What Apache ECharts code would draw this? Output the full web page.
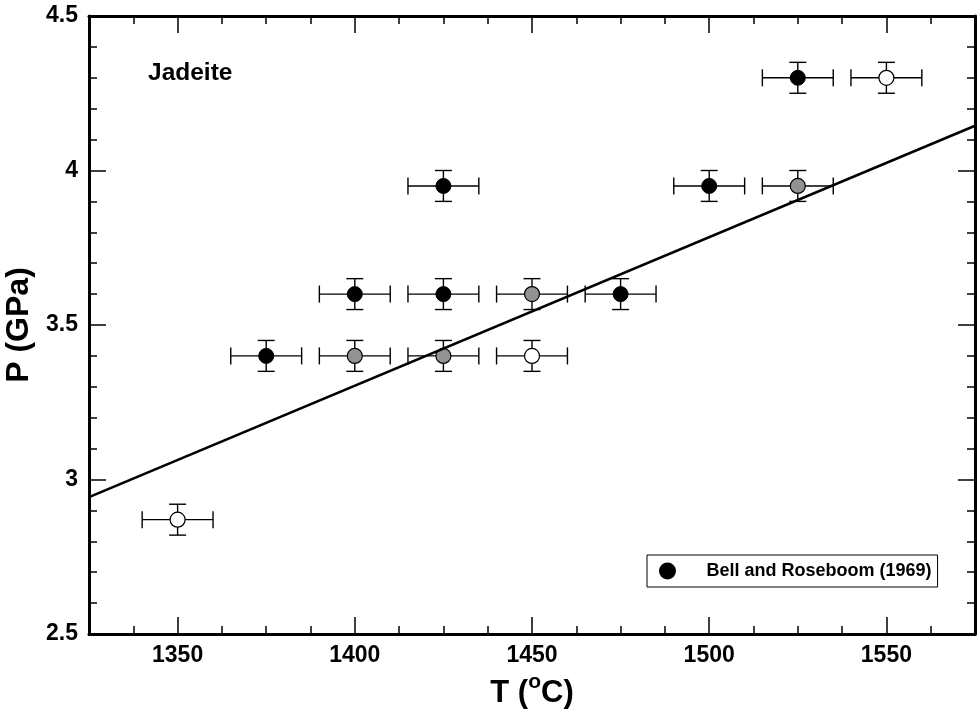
<!DOCTYPE html>
<html>
<head>
<meta charset="utf-8">
<title>Jadeite</title>
<script src="https://cdn.jsdelivr.net/npm/echarts@6/dist/echarts.min.js"></script>
<style>
  html, body { margin: 0; padding: 0; background: #fff; }
  #chart { width: 977px; height: 709px; }
</style>
</head>
<body>
<div id="chart"></div>
<script>
// Experimental run conditions (T in deg C, P in GPa)
const filledT = [1375, 1400, 1425, 1425, 1475, 1500, 1525];
const filledP = [3.40, 3.60, 3.95, 3.60, 3.60, 3.95, 4.30];
const grayT = [1400, 1425, 1450, 1525];
const grayP = [3.40, 3.40, 3.60, 3.95];
const openT = [1350, 1450, 1550];
const openP = [2.87, 3.40, 4.30];

// Uncertainties applied to every run
const errT = 10;
const errP = 0.05;

// Fitted boundary, end points across the T range
const fitT = [1325, 1575];
const fitP = [2.943, 4.145];

// Axis ranges and labelled ticks
const xRange = [1325, 1575];
const yRange = [2.5, 4.5];
const xTickLabels = [1350, 1400, 1450, 1500, 1550];
const yTickLabels = [2.5, 3, 3.5, 4, 4.5];

const legendName = 'Bell and Roseboom (1969)';
const panelLabel = 'Jadeite';

const FONT = '"Liberation Sans", Arial, Helvetica, sans-serif';

const zip = (a, b) => a.map((v, i) => [v, b[i]]);
const allT = filledT.concat(grayT, openT);
const allP = filledP.concat(grayP, openP);
const errRows = allT.map((t, i) => [t, allP[i], errT, errP]);

function errorBars(params, api) {
  const t = api.value(0), p = api.value(1), dt = api.value(2), dp = api.value(3);
  const L = api.coord([t - dt, p]);
  const R = api.coord([t + dt, p]);
  const B = api.coord([t, p - dp]);
  const T = api.coord([t, p + dp]);
  const cap = 8.5;
  const style = { stroke: '#000', lineWidth: 1.4, fill: null };
  const seg = (x1, y1, x2, y2) => ({ type: 'line', shape: { x1, y1, x2, y2 }, style });
  return {
    type: 'group',
    children: [
      seg(L[0], L[1], R[0], R[1]),
      seg(L[0], L[1] - cap, L[0], L[1] + cap),
      seg(R[0], R[1] - cap, R[0], R[1] + cap),
      seg(B[0], B[1], T[0], T[1]),
      seg(B[0] - cap, B[1], B[0] + cap, B[1]),
      seg(T[0] - cap, T[1], T[0] + cap, T[1])
    ]
  };
}

const plotBox = { left: 89, right: 2, top: 16, bottom: 75, containLabel: false, outerBoundsMode: 'none' };
const tickStyle = { color: '#000', width: 1.5 };
const frameLine = { show: true, lineStyle: { color: '#000', width: 3 } };

const baseX = {
  type: 'value', min: xRange[0], max: xRange[1], interval: 12.5,
  splitLine: { show: false }
};

// labelled / major x ticks
function majorX(position, extra) {
  return Object.assign({}, baseX, {
    gridIndex: 0, position,
    axisLine: frameLine,
    axisTick: { show: true, inside: true, length: 17, customValues: xTickLabels, lineStyle: tickStyle },
    axisLabel: { show: false }
  }, extra || {});
}
// minor x ticks every 12.5 degrees, on an overlaid grid
function minorX(position) {
  return Object.assign({}, baseX, {
    gridIndex: 1, position,
    axisLine: { show: false },
    axisTick: { show: true, inside: true, length: 8, lineStyle: tickStyle },
    axisLabel: { show: false }
  });
}

const option = {
  animation: false,
  backgroundColor: '#fff',
  grid: [Object.assign({}, plotBox), Object.assign({}, plotBox)],
  title: {
    text: panelLabel, left: 148, top: 61, padding: 0,
    textStyle: { fontFamily: FONT, fontWeight: 'bold', fontSize: 24.5, color: '#000' }
  },
  legend: {
    data: [legendName],
    left: 647, top: 555,
    padding: [7, 6, 7, 12],
    itemWidth: 26, itemHeight: 15,
    borderColor: '#000', borderWidth: 1,
    backgroundColor: '#fff',
    icon: 'circle',
    textStyle: { fontFamily: FONT, fontWeight: 'bold', fontSize: 18, color: '#000', padding: [0, 0, 0, 21] }
  },
  xAxis: [
    majorX('bottom', {
      name: 'T ({s|o}C)', nameLocation: 'middle', nameGap: 32,
      nameTextStyle: {
        fontFamily: FONT, fontWeight: 'bold', fontSize: 31, color: '#000', lineHeight: 44,
        rich: { s: { fontFamily: FONT, fontWeight: 'bold', fontSize: 21, color: '#000', verticalAlign: 'top', lineHeight: 6 } }
      },
      axisLabel: {
        show: true, customValues: xTickLabels, margin: 10,
        formatter: v => String(v),
        fontFamily: FONT, fontWeight: 'bold', fontSize: 23, color: '#000'
      }
    }),
    majorX('top'),
    minorX('bottom'),
    minorX('top')
  ],
  yAxis: [
    {
      gridIndex: 0, type: 'value', min: yRange[0], max: yRange[1], interval: 0.5, position: 'left',
      name: 'P (GPa)', nameLocation: 'middle', nameRotate: 90, nameGap: 50,
      nameTextStyle: { fontFamily: FONT, fontWeight: 'bold', fontSize: 32, color: '#000' },
      splitLine: { show: false },
      axisLine: frameLine,
      axisTick: { show: true, inside: true, length: 17, customValues: yTickLabels, lineStyle: tickStyle },
      minorTick: { show: true, splitNumber: 5, length: 8, lineStyle: tickStyle },
      axisLabel: {
        show: true, customValues: yTickLabels, margin: 11,
        formatter: v => String(v),
        fontFamily: FONT, fontWeight: 'bold', fontSize: 23, color: '#000'
      }
    },
    {
      gridIndex: 0, type: 'value', min: yRange[0], max: yRange[1], interval: 0.5, position: 'right',
      splitLine: { show: false },
      axisLine: frameLine,
      axisTick: { show: true, inside: true, length: 17, lineStyle: tickStyle },
      minorTick: { show: true, splitNumber: 5, length: 8, lineStyle: tickStyle },
      axisLabel: { show: false }
    },
    {
      gridIndex: 1, type: 'value', min: yRange[0], max: yRange[1], interval: 0.5, show: false
    }
  ],
  series: [
    {
      name: 'error bars', type: 'custom', xAxisIndex: 0, yAxisIndex: 0,
      renderItem: errorBars, data: errRows, encode: { x: 0, y: 1 }, z: 2, silent: true
    },
    {
      name: legendName, type: 'scatter', xAxisIndex: 0, yAxisIndex: 0,
      data: zip(filledT, filledP), symbol: 'circle', symbolSize: 15, z: 3,
      itemStyle: { color: '#000', borderColor: '#000', borderWidth: 1, opacity: 1 }
    },
    {
      name: 'gray runs', type: 'scatter', xAxisIndex: 0, yAxisIndex: 0,
      data: zip(grayT, grayP), symbol: 'circle', symbolSize: 15, z: 3,
      itemStyle: { color: '#929292', borderColor: '#000', borderWidth: 1.2, opacity: 1 }
    },
    {
      name: 'open runs', type: 'scatter', xAxisIndex: 0, yAxisIndex: 0,
      data: zip(openT, openP), symbol: 'circle', symbolSize: 15, z: 3,
      itemStyle: { color: '#fff', borderColor: '#000', borderWidth: 1.2, opacity: 1 }
    },
    {
      name: 'fit', type: 'line', xAxisIndex: 0, yAxisIndex: 0,
      data: zip(fitT, fitP), symbol: 'none', clip: true, z: 4,
      lineStyle: { color: '#000', width: 2.6 }
    }
  ]
};

const chart = echarts.init(document.getElementById('chart'), null, { renderer: 'canvas' });
chart.setOption(option);
</script>
</body>
</html>
